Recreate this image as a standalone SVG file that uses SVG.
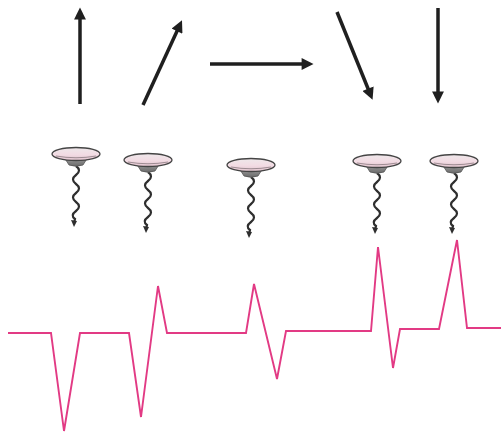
<svg xmlns="http://www.w3.org/2000/svg" width="501" height="432" viewBox="0 0 501 432">
  <style>
    .vec { stroke: #1f1f1f; stroke-width: 3.5; fill: none; marker-end: url(#head); }
    .trace { stroke: #e23a84; stroke-width: 1.9; fill: none; stroke-linejoin: miter; }
    .wire { stroke: #2e2e2e; stroke-width: 2.2; fill: none; }
  </style>
  <defs>
    <marker id="head" viewBox="0 0 10 10" refX="2" refY="5" markerWidth="3.6" markerHeight="3.4" orient="auto" markerUnits="strokeWidth">
      <path d="M0,0 L10,5 L0,10 Z" fill="#1f1f1f"/>
    </marker>
    <linearGradient id="discFill" x1="0" y1="0" x2="0" y2="1">
      <stop offset="0" stop-color="#eee8ea"/>
      <stop offset="0.55" stop-color="#f2dbe3"/>
      <stop offset="1" stop-color="#e2c4ce"/>
    </linearGradient>
    <linearGradient id="capFill" x1="0" y1="0" x2="0" y2="1">
      <stop offset="0" stop-color="#a0a0a0"/>
      <stop offset="1" stop-color="#6a6a6a"/>
    </linearGradient>
    <!-- electrode: disc centred at origin, lead wire hanging below -->
    <g id="electrode">
      <path class="wire" d="M0,12 Q6,16.5 0,21 T0,30 T0,39 T0,48 T0,57 T-1,65 L-2,69"/>
      <path d="M-5,66 L-2,73 L1,67 Z" fill="#2e2e2e"/>
      <path d="M-12,3 L12,3 L7,11 Q0,13.5 -7,11 Z" fill="url(#capFill)" stroke="#555" stroke-width="0.8"/>
      <ellipse cx="0" cy="0" rx="24" ry="6.5" fill="url(#discFill)" stroke="#444" stroke-width="1.3"/>
      <path d="M-20,2 Q0,5.5 20,2" fill="none" stroke="#8a7a80" stroke-width="0.8"/>
    </g>
  </defs>

  <rect width="501" height="432" fill="#ffffff"/>

  <!-- direction vectors -->
  <g id="vectors">
    <line class="vec" x1="80" y1="104" x2="80" y2="17"/>
    <line class="vec" x1="143" y1="105" x2="178" y2="29"/>
    <line class="vec" x1="210" y1="64" x2="304" y2="64"/>
    <line class="vec" x1="337" y1="12" x2="369" y2="91"/>
    <line class="vec" x1="438" y1="8" x2="438" y2="94"/>
  </g>

  <!-- electrodes -->
  <g id="electrode-1"><use href="#electrode" x="76" y="154"/></g>
  <g id="electrode-2"><use href="#electrode" x="148" y="160"/></g>
  <g id="electrode-3"><use href="#electrode" x="251" y="165"/></g>
  <g id="electrode-4"><use href="#electrode" x="377" y="161"/></g>
  <g id="electrode-5"><use href="#electrode" x="454" y="161"/></g>

  <!-- recorded deflections -->
  <g id="trace">
    <polyline class="trace" points="8,333 51,333 64,431 80,333 129,333 141,417 158,286 167,333 246,333 254,284 277,379 286,331 371,331 378,247 393,368 400,329 439,329 457,240 467,328 501,328"/>
  </g>
</svg>
